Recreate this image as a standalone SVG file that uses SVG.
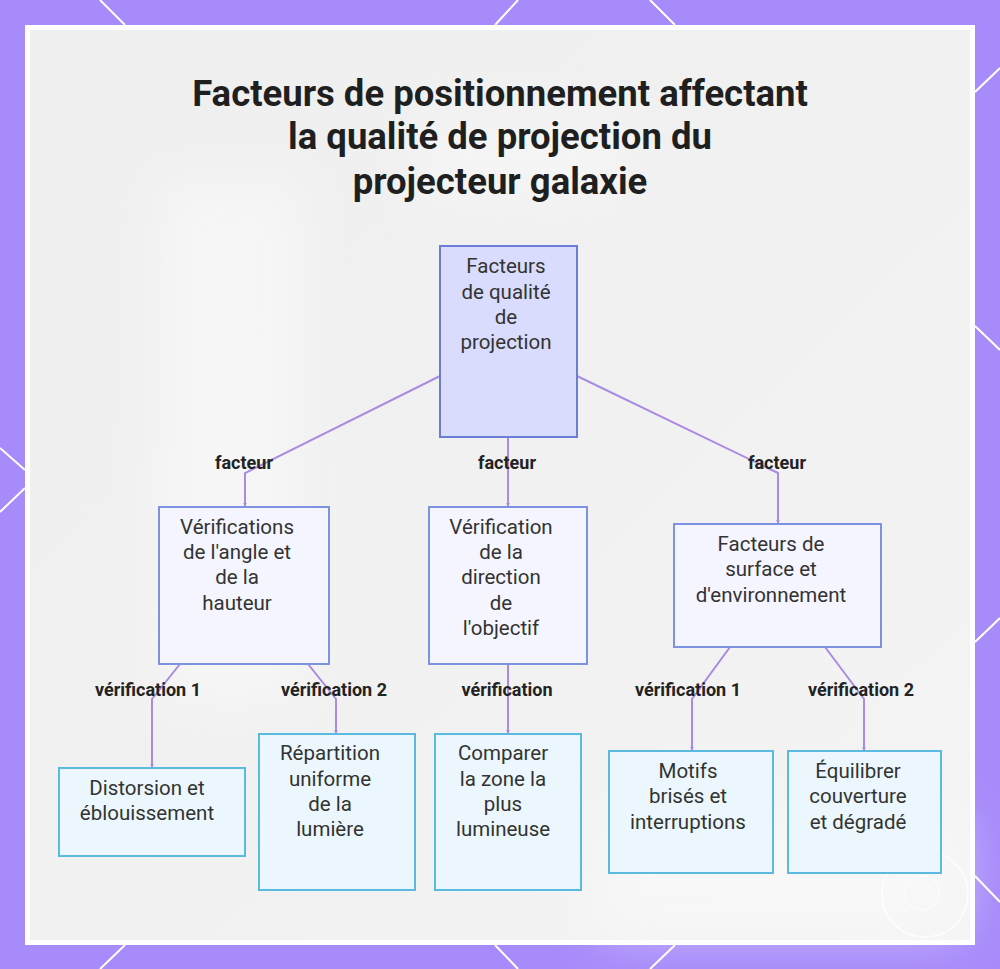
<svg xmlns="http://www.w3.org/2000/svg" width="1000" height="969" viewBox="0 0 1000 969">
  <defs>
    <style>
      .title { font-family: Roboto, "Liberation Sans", sans-serif; font-weight: 700; font-size: 36.5px; fill: #1f1f1f; text-anchor: middle; }
      .ntext { font-family: Roboto, "Liberation Sans", sans-serif; font-size: 20.5px; fill: #333333; text-anchor: middle; }
      .elabel { font-family: Roboto, "Liberation Sans", sans-serif; font-weight: 700; font-size: 18px; fill: #222222; text-anchor: middle; }
      .root { fill: #d9dcfc; stroke: #6b7ed6; stroke-width: 2; }
      .mid { fill: #f5f5ff; stroke: #7e92e2; stroke-width: 2; }
      .leaf { fill: #ecf7fd; stroke: #5bbadf; stroke-width: 2; }
      .edge { fill: none; stroke: #a98be3; stroke-width: 2; }
      .deco { stroke: #ffffff; stroke-width: 2; fill: none; }
    </style>
    <linearGradient id="panelGrad" x1="0" y1="0" x2="1" y2="1">
      <stop offset="0" stop-color="#efefef"/>
      <stop offset="0.5" stop-color="#f1f1f1"/>
      <stop offset="1" stop-color="#f4f4f5"/>
    </linearGradient>
    <filter id="blur" x="-50%" y="-50%" width="200%" height="200%">
      <feGaussianBlur stdDeviation="25"/>
    </filter>
    <marker id="arrow" viewBox="0 0 6 6" refX="5" refY="3" markerWidth="4" markerHeight="4" orient="auto" markerUnits="userSpaceOnUse">
      <path d="M0,0 L6,3 L0,6 z" fill="#a98be3"/>
    </marker>
  </defs>

  <!-- background -->
  <rect x="0" y="0" width="1000" height="969" fill="#a78bfa"/>
  <g id="decorations">
    <line class="deco" x1="100" y1="0" x2="125" y2="25"/>
    <line class="deco" x1="518" y1="0" x2="495" y2="25"/>
    <line class="deco" x1="650" y1="0" x2="675" y2="25"/>
    <line class="deco" x1="125" y1="945" x2="100" y2="969"/>
    <line class="deco" x1="495" y1="945" x2="518" y2="969"/>
    <line class="deco" x1="675" y1="945" x2="650" y2="969"/>
    <line class="deco" x1="0" y1="448" x2="25" y2="470"/>
    <line class="deco" x1="25" y1="488" x2="0" y2="512"/>
    <line class="deco" x1="1000" y1="68" x2="975" y2="92"/>
    <line class="deco" x1="975" y1="326" x2="1000" y2="350"/>
    <line class="deco" x1="1000" y1="618" x2="975" y2="642"/>
    <line class="deco" x1="975" y1="876" x2="1000" y2="902"/>
  </g>
  <rect x="25" y="25" width="950" height="920" fill="#ffffff"/>
  <rect x="30" y="30" width="940" height="910" fill="url(#panelGrad)"/>
  <g opacity="0.6" filter="url(#blur)">
    <rect x="160" y="180" width="140" height="520" fill="#fafafa"/>
    <rect x="420" y="120" width="200" height="80" fill="#f8f8f8"/>
    <rect x="600" y="820" width="360" height="110" fill="#fbfbfb"/>
  </g>
  <g id="watermark" opacity="0.85">
    <circle cx="925" cy="894" r="43" fill="none" stroke="#ffffff" stroke-width="1.5"/>
    <circle cx="922" cy="893" r="17" fill="none" stroke="#ffffff" stroke-width="1"/>
  </g>

  <!-- title -->
  <g id="title">
    <text class="title" x="500" y="106">Facteurs de positionnement affectant</text>
    <text class="title" x="500" y="149">la qualité de projection du</text>
    <text class="title" x="500" y="194">projecteur galaxie</text>
  </g>

  <!-- connectors -->
  <g id="connectors">
    <path class="edge" d="M440,376 L245,473 L245,506" marker-end="url(#arrow)"/>
    <path class="edge" d="M508,437 L508,506" marker-end="url(#arrow)"/>
    <path class="edge" d="M577,376 L778,473 L778,523" marker-end="url(#arrow)"/>
    <path class="edge" d="M180,664 L152,699 L152,767" marker-end="url(#arrow)"/>
    <path class="edge" d="M308,664 L336,699 L336,733" marker-end="url(#arrow)"/>
    <path class="edge" d="M508,664 L508,733" marker-end="url(#arrow)"/>
    <path class="edge" d="M730,647 L692,699 L692,750" marker-end="url(#arrow)"/>
    <path class="edge" d="M825,647 L864,699 L864,750" marker-end="url(#arrow)"/>
    <text class="elabel" x="244" y="469">facteur</text>
    <text class="elabel" x="507" y="469">facteur</text>
    <text class="elabel" x="777" y="469">facteur</text>
    <text class="elabel" x="148" y="696">vérification 1</text>
    <text class="elabel" x="334" y="696">vérification 2</text>
    <text class="elabel" x="507" y="696">vérification</text>
    <text class="elabel" x="688" y="696">vérification 1</text>
    <text class="elabel" x="861" y="696">vérification 2</text>
  </g>

  <!-- nodes -->
  <g id="root">
    <rect class="root" x="440" y="246" width="137" height="191"/>
    <text class="ntext" x="506" y="273">Facteurs</text>
    <text class="ntext" x="506" y="299">de qualité</text>
    <text class="ntext" x="506" y="324">de</text>
    <text class="ntext" x="506" y="349">projection</text>
  </g>
  <g id="angle">
    <rect class="mid" x="159" y="507" width="170" height="157"/>
    <text class="ntext" x="237" y="534">Vérifications</text>
    <text class="ntext" x="237" y="559">de l'angle et</text>
    <text class="ntext" x="237" y="584">de la</text>
    <text class="ntext" x="237" y="610">hauteur</text>
  </g>
  <g id="direction">
    <rect class="mid" x="429" y="507" width="158" height="157"/>
    <text class="ntext" x="501" y="534">Vérification</text>
    <text class="ntext" x="501" y="559">de la</text>
    <text class="ntext" x="501" y="584">direction</text>
    <text class="ntext" x="501" y="610">de</text>
    <text class="ntext" x="501" y="635">l'objectif</text>
  </g>
  <g id="surface">
    <rect class="mid" x="674" y="524" width="207" height="123"/>
    <text class="ntext" x="771" y="551">Facteurs de</text>
    <text class="ntext" x="771" y="576">surface et</text>
    <text class="ntext" x="771" y="602">d'environnement</text>
  </g>
  <g id="distorsion">
    <rect class="leaf" x="59" y="768" width="186" height="88"/>
    <text class="ntext" x="147" y="795">Distorsion et</text>
    <text class="ntext" x="147" y="820">éblouissement</text>
  </g>
  <g id="repartition">
    <rect class="leaf" x="259" y="734" width="156" height="156"/>
    <text class="ntext" x="330" y="760">Répartition</text>
    <text class="ntext" x="330" y="786">uniforme</text>
    <text class="ntext" x="330" y="811">de la</text>
    <text class="ntext" x="330" y="836">lumière</text>
  </g>
  <g id="comparer">
    <rect class="leaf" x="435" y="734" width="146" height="156"/>
    <text class="ntext" x="503" y="760">Comparer</text>
    <text class="ntext" x="503" y="786">la zone la</text>
    <text class="ntext" x="503" y="811">plus</text>
    <text class="ntext" x="503" y="836">lumineuse</text>
  </g>
  <g id="motifs">
    <rect class="leaf" x="609" y="751" width="164" height="122"/>
    <text class="ntext" x="688" y="778">Motifs</text>
    <text class="ntext" x="688" y="803">brisés et</text>
    <text class="ntext" x="688" y="829">interruptions</text>
  </g>
  <g id="equilibrer">
    <rect class="leaf" x="788" y="751" width="153" height="122"/>
    <text class="ntext" x="858" y="778">Équilibrer</text>
    <text class="ntext" x="858" y="803">couverture</text>
    <text class="ntext" x="858" y="829">et dégradé</text>
  </g>
</svg>
